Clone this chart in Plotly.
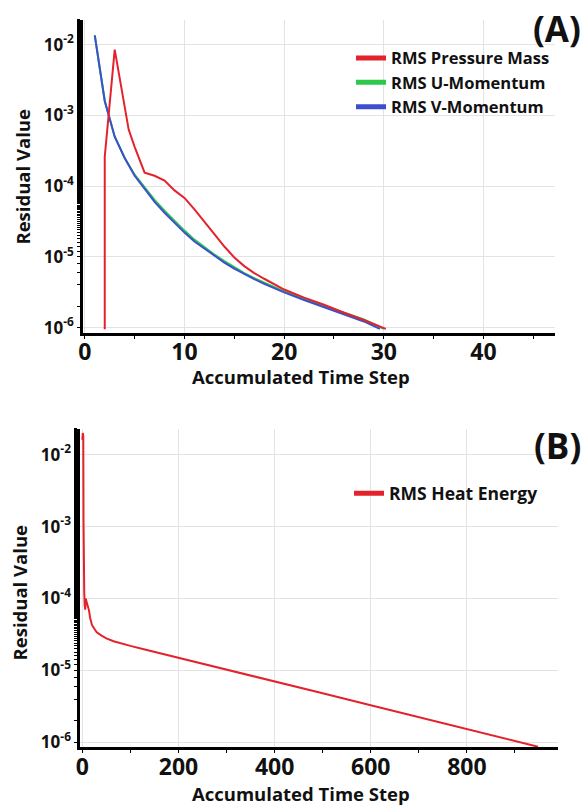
import plotly.graph_objects as go

# ---------------- data: panel A ----------------
pm_step = [2, 2, 3, 4, 4.4, 5, 6, 7, 8, 9, 10, 11, 12, 13, 14, 15, 16, 17, 18, 19, 20, 22, 24, 26, 28, 30.2]
pm_val = [9.5e-7, 2.6e-4, 8.5e-3, 1.3e-3, 6.3e-4, 3.6e-4, 1.55e-4, 1.4e-4, 1.2e-4, 8.7e-5, 6.8e-5, 4.7e-5,
          3.2e-5, 2.1e-5, 1.4e-5, 9.8e-6, 7.4e-6, 5.9e-6, 4.9e-6, 4.1e-6, 3.45e-6, 2.65e-6,
          2.1e-6, 1.62e-6, 1.28e-6, 9.6e-7]

u_step = [1, 2, 3, 4, 5, 6, 7, 8, 9, 10, 11, 12, 13, 14, 15, 16, 17, 18, 19, 20, 22, 24, 26, 28, 30]
u_val = [1.35e-2, 1.6e-3, 5.0e-4, 2.5e-4, 1.45e-4, 9.5e-5, 6.4e-5, 4.5e-5, 3.2e-5, 2.35e-5, 1.75e-5,
         1.37e-5, 1.08e-5, 8.7e-6, 7.1e-6, 5.9e-6, 5.0e-6, 4.3e-6, 3.7e-6, 3.25e-6, 2.55e-6,
         2.05e-6, 1.65e-6, 1.3e-6, 9.6e-7]

v_step = [1, 2, 3, 4, 5, 6, 7, 8, 9, 10, 11, 12, 13, 14, 15, 16, 17, 18, 19, 20, 22, 24, 26, 28, 29.6]
v_val = [1.35e-2, 1.6e-3, 5.0e-4, 2.5e-4, 1.4e-4, 9.0e-5, 6.0e-5, 4.2e-5, 3.0e-5, 2.2e-5, 1.65e-5,
         1.3e-5, 1.03e-5, 8.3e-6, 6.8e-6, 5.7e-6, 4.85e-6, 4.15e-6, 3.6e-6, 3.15e-6, 2.45e-6,
         1.95e-6, 1.55e-6, 1.22e-6, 9.6e-7]

# ---------------- data: panel B ----------------
he_step = [0, 1, 2, 2.5, 3, 4, 5, 6, 7, 8, 10, 12, 14, 16, 18, 20, 25, 30, 40, 50, 65, 80, 100,
           130, 170, 200, 300, 400, 500, 600, 700, 800, 900, 948]
he_val = [1.6e-2, 2.0e-2, 1.8e-2, 1.2e-3, 1.4e-4, 1.2e-4, 8.0e-5, 7.0e-5, 1.0e-4, 9.5e-5, 9.0e-5,
          8.0e-5, 6.8e-5, 5.5e-5, 4.7e-5, 4.3e-5, 3.8e-5, 3.4e-5, 3.05e-5, 2.8e-5, 2.55e-5, 2.37e-5,
          2.2e-5, 1.96e-5, 1.68e-5, 1.5e-5, 1.03e-5, 7.05e-6, 4.82e-6, 3.29e-6, 2.25e-6, 1.53e-6,
          1.05e-6, 8.7e-7]

names_a = ["RMS Pressure Mass", "RMS U-Momentum", "RMS V-Momentum"]
name_b = "RMS Heat Energy"

RED = "#e4222b"
GREEN = "#2ec84a"
BLUE = "#3b4fcf"

y_tickvals = [1e-6, 1e-5, 1e-4, 1e-3, 1e-2]
y_ticktext = ["10<sup>-6</sup>", "10<sup>-5</sup>", "10<sup>-4</sup>", "10<sup>-3</sup>", "10<sup>-2</sup>"]

W, H = 583, 809
FONT = "Open Sans"

fig = go.Figure()

fig.add_trace(go.Scatter(x=u_step, y=u_val, mode="lines", line=dict(color=GREEN, width=2),
                         showlegend=False, xaxis="x", yaxis="y"))
fig.add_trace(go.Scatter(x=v_step, y=v_val, mode="lines", line=dict(color=BLUE, width=2),
                         showlegend=False, xaxis="x", yaxis="y"))
fig.add_trace(go.Scatter(x=pm_step, y=pm_val, mode="lines", line=dict(color=RED, width=2),
                         showlegend=False, xaxis="x", yaxis="y"))
for nm, col in zip(names_a, [RED, GREEN, BLUE]):
    fig.add_trace(go.Scatter(x=[None], y=[None], mode="lines", name=nm, legendgroup=nm,
                             line=dict(color=col, width=5), xaxis="x", yaxis="y", legend="legend"))

fig.add_trace(go.Scatter(x=he_step, y=he_val, mode="lines", line=dict(color=RED, width=2),
                         showlegend=False, xaxis="x2", yaxis="y2"))
fig.add_trace(go.Scatter(x=[None], y=[None], mode="lines", name=name_b,
                         line=dict(color=RED, width=5), xaxis="x2", yaxis="y2", legend="legend2"))


def px_x(p):
    return p / W


def px_y(p):
    return 1 - p / H


grid = "#e3e3e3"
common_x = dict(showline=True, linecolor="black", linewidth=3, showgrid=True, gridcolor=grid,
                gridwidth=1, zeroline=False, ticks="outside", ticklen=3, tickcolor="black",
                ticklabelstandoff=-6,
                tickfont=dict(family=FONT, size=23, color="#111", weight="bold"))
common_y = dict(type="log", showline=True, linecolor="black", linewidth=3, showgrid=True,
                gridcolor=grid, gridwidth=1, zeroline=False, ticks="outside", ticklen=3,
                tickcolor="black", tickmode="array", tickvals=y_tickvals, ticktext=y_ticktext,
                tickfont=dict(family=FONT, size=17, color="#111", weight="bold"),
                minor=dict(ticks="outside", ticklen=3, tickcolor="black", showgrid=False))

fig.update_layout(
    width=W, height=H, margin=dict(l=0, r=0, t=0, b=0),
    paper_bgcolor="white", plot_bgcolor="white",
    xaxis=dict(domain=[px_x(79), px_x(555)], range=[-0.15, 47.2], anchor="y",
               tickmode="linear", tick0=0, dtick=10,
               minor=dict(ticks="outside", ticklen=3, tickcolor="black", dtick=5, showgrid=False),
               **common_x),
    yaxis=dict(domain=[px_y(335), px_y(20)], range=[-6.07, -1.649], anchor="x", **common_y),
    xaxis2=dict(domain=[px_x(76), px_x(558)], range=[-4.1, 990], anchor="y2",
                tickmode="linear", tick0=0, dtick=200,
                minor=dict(ticks="outside", ticklen=3, tickcolor="black", dtick=100, showgrid=False),
                **common_x),
    yaxis2=dict(domain=[px_y(753), px_y(432)], range=[-6.069, -1.641], anchor="x2", **common_y),
    legend=dict(x=px_x(349), y=px_y(41), xanchor="left", yanchor="top", bgcolor="rgba(0,0,0,0)",
                font=dict(family=FONT, size=16.5, color="#111", weight="bold"),
                tracegroupgap=0, itemwidth=30),
    legend2=dict(x=px_x(347), y=px_y(479), xanchor="left", yanchor="top", bgcolor="rgba(0,0,0,0)",
                 font=dict(family=FONT, size=17.5, color="#111", weight="bold")),
    annotations=[
        dict(text="(A)", x=px_x(557), y=px_y(29), xref="paper", yref="paper", showarrow=False,
             xanchor="center", yanchor="middle",
             font=dict(family=FONT, size=35, color="#111", weight="bold")),
        dict(text="(B)", x=px_x(557), y=px_y(449), xref="paper", yref="paper", showarrow=False,
             xanchor="center", yanchor="middle",
             font=dict(family=FONT, size=35, color="#111", weight="bold")),
        dict(text="Residual Value", x=px_x(18), y=px_y(178), xref="paper", yref="paper",
             showarrow=False, textangle=-90, xanchor="center", yanchor="middle",
             font=dict(family=FONT, size=18.5, color="#111", weight="bold")),
        dict(text="Residual Value", x=px_x(15), y=px_y(597), xref="paper", yref="paper",
             showarrow=False, textangle=-90, xanchor="center", yanchor="middle",
             font=dict(family=FONT, size=18.5, color="#111", weight="bold")),
        dict(text="Accumulated Time Step", x=px_x(299), y=px_y(379), xref="paper", yref="paper",
             showarrow=False, xanchor="center", yanchor="middle",
             font=dict(family=FONT, size=18.5, color="#111", weight="bold")),
        dict(text="Accumulated Time Step", x=px_x(299), y=px_y(799), xref="paper", yref="paper",
             showarrow=False, xanchor="center", yanchor="middle",
             font=dict(family=FONT, size=18.5, color="#111", weight="bold")),
    ],
)

fig.write_html("out.html")
